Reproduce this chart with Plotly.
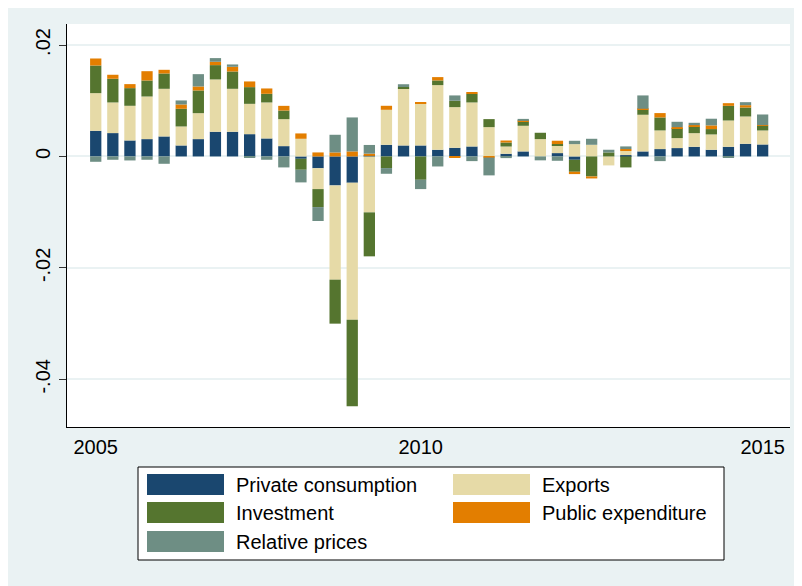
import plotly.graph_objects as go

# Contributions by component, quarterly (40 bars)
private_consumption = [0.0046, 0.00419, 0.00287, 0.00311, 0.00359, 0.00197, 0.00311, 0.00443, 0.00443, 0.0040,
                       0.00323, 0.00185, -0.00042, -0.00212, -0.0052, -0.00472, 0.0001, 0.00209, 0.00197, 0.00197,
                       0.0012, 0.00155, 0.00179, 0.0, 0.00048, 0.0009, 0.0, 0.0006, -0.0006, 0.0,
                       0.0, 0.00024, 0.0009, 0.00132, 0.0015, 0.00173, 0.0012, 0.00173, 0.00227, 0.00215]
exports = [0.00676, 0.0055, 0.00622, 0.00765, 0.00855, 0.00341, 0.00466, 0.00939, 0.00771, 0.00544,
           0.00646, 0.00484, 0.00317, -0.00374, -0.01692, -0.02458, -0.01004, 0.00628, 0.01029, 0.00753,
           0.0116, 0.0073, 0.0079, 0.00526, 0.0013, 0.0046, 0.00311, 0.00138, 0.00221, 0.00209,
           -0.00161, 0.00078, 0.00658, 0.00335, 0.00179, 0.00245, 0.00275, 0.00472, 0.0049, 0.00251]
investment = [0.00496, 0.00425, 0.00317, 0.00287, 0.00275, 0.00317, 0.00407, 0.00257, 0.00311, 0.0030,
              0.00155, 0.00155, -0.00197, -0.00323, -0.00789, -0.01555, -0.00789, -0.00209, 0.0002, -0.00419,
              0.00084, 0.00114, 0.00155, 0.00144, 0.00072, 0.00078, 0.00114, 0.00024, -0.00215, -0.00359,
              0.00072, -0.00197, 0.00096, 0.00233, 0.00179, 0.0012, 0.00096, 0.00263, 0.00161, 0.00084]
public_expenditure = [0.00126, 0.00072, 0.00072, 0.00167, 0.00066, 0.00078, 0.00072, 0.0006, 0.00084, 0.00102,
                      0.00096, 0.00084, 0.00096, 0.00072, 0.00072, 0.0009, 0.0004, 0.00072, 0.0, 0.00012,
                      0.0006, -0.00012, 0.00024, -0.0002, 0.00036, 0.0001, 0.0, 0.0006, -0.00042, -0.00036,
                      0.0, 0.0003, 0.00012, 0.00078, 0.00018, 0.00024, 0.00066, 0.00048, 0.00042, 0.00012]
relative_prices = [-0.00096, -0.0006, -0.00072, -0.0006, -0.00132, 0.00072, 0.00221, 0.00066, 0.00042, -0.00024,
                   -0.0006, -0.00197, -0.00227, -0.0025, 0.00317, 0.0061, 0.00156, -0.00102, 0.0005, -0.00167,
                   -0.0018, 0.00096, -0.00084, -0.0032, -0.0003, 0.00036, -0.0007, -0.00078, 0.0006, 0.00108,
                   0.00048, 0.00048, 0.00239, -0.00084, 0.00096, 0.00042, 0.0012, -0.00018, 0.00054, 0.00191]

year_tick_index = [0, 19, 39]
year_tick_labels = ["2005", "2010", "2015"]
y_tick_values = [-0.04, -0.02, 0, 0.02]
y_tick_labels = ["-.04", "-.02", "0", ".02"]

series = [
    ("Private consumption", private_consumption, "#1A476F"),
    ("Exports", exports, "#E6DAA7"),
    ("Investment", investment, "#55752F"),
    ("Public expenditure", public_expenditure, "#E37E00"),
    ("Relative prices", relative_prices, "#6E8E84"),
]

x = list(range(len(private_consumption)))
FONT = "Liberation Sans, Arial, sans-serif"
BG = "#EAF2F3"

fig = go.Figure()
for name, vals, col in series:
    fig.add_trace(go.Bar(x=x, y=vals, name=name, marker=dict(color=col, line=dict(width=0)),
                         showlegend=False))

# page body margin of 8px offsets the figure; sizes below are in figure pixels
OFF = 8
W, H = 794, 578
L, R, T, B = 59, 12, 16, 159
PW, PH = W - L - R, H - T - B


def px2x(px):
    return (px - OFF - L) / PW


def py2y(py):
    return (H - B - (py - OFF)) / PH


shapes = [
    # legend box
    dict(type="rect", xref="paper", yref="paper", x0=px2x(138), x1=px2x(724), y0=py2y(560), y1=py2y(467),
         fillcolor="white", line=dict(color="black", width=1)),
]
annotations = []
legend_layout = [(147, 474), (453, 474), (147, 502), (453, 502), (147, 531)]
for (sx, sy), (name, _, col) in zip(legend_layout, series):
    shapes.append(dict(type="rect", xref="paper", yref="paper", x0=px2x(sx), x1=px2x(sx + 77),
                       y0=py2y(sy + 21), y1=py2y(sy), fillcolor=col, line=dict(width=0)))
    annotations.append(dict(text=name, xref="paper", yref="paper", x=px2x(sx + 87), y=py2y(sy + 11),
                            xanchor="left", yanchor="middle", showarrow=False,
                            font=dict(family=FONT, size=20, color="black")))

fig.update_layout(
    width=W, height=H,
    margin=dict(l=L, r=R, t=T, b=B),
    paper_bgcolor=BG, plot_bgcolor="white",
    barmode="relative", bargap=0.34,
    font=dict(family=FONT, size=20, color="black"),
    shapes=shapes, annotations=annotations,
    xaxis=dict(range=[-1.68, 40.6], tickmode="array", tickvals=year_tick_index, ticktext=year_tick_labels,
               showgrid=False, zeroline=False, showline=True, linecolor="black", linewidth=1,
               ticks="", ticklen=0, ticklabelstandoff=2, tickfont=dict(size=20)),
    yaxis=dict(range=[-0.04856, 0.02377], tickmode="array", tickvals=y_tick_values, ticktext=y_tick_labels,
               tickangle=-90, showgrid=True, gridcolor=BG, gridwidth=2, zeroline=False,
               showline=True, linecolor="black", linewidth=1, ticks="outside", ticklen=7,
               tickcolor="#333333", ticklabelstandoff=1, tickfont=dict(size=20)),
)

fig.write_html("out.html")
